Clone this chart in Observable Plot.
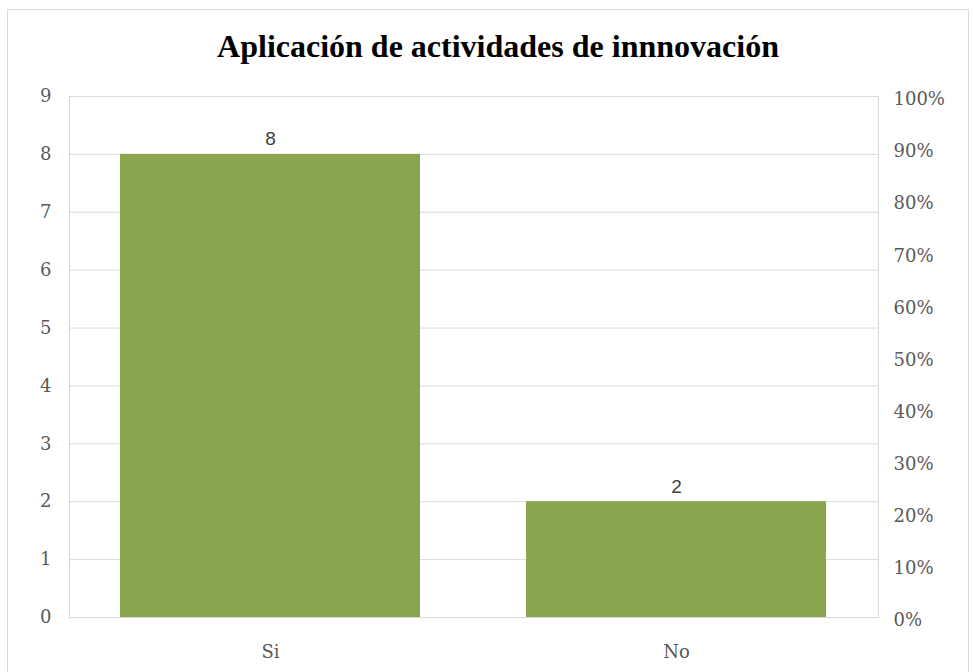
<!DOCTYPE html>
<html>
<head>
<meta charset="utf-8">
<script src="https://cdn.jsdelivr.net/npm/d3@7"></script>
<script src="https://cdn.jsdelivr.net/npm/@observablehq/plot@0.6"></script>
<style>
  body { margin: 0; background: #fff; }
  #wrap { position: relative; width: 973px; height: 672px; overflow: hidden; }
  #border { position: absolute; left: 7px; top: 9px; width: 962px; height: 680px; border: 1px solid #d9d9d9; box-sizing: border-box; }
  #title { position: absolute; top: 30px; left: 0; width: 996px; text-align: center; line-height: 32px;
           font-family: "Liberation Serif", "DejaVu Serif", serif; font-weight: bold; font-size: 32px; color: #000; }
  #chart { position: absolute; left: 0; top: 0; }
</style>
</head>
<body>
<div id="wrap">
  <div id="border"></div>
  <div id="title">Aplicación de actividades de innnovación</div>
  <div id="chart"></div>
</div>
<script>
const categories = ["Si", "No"];
const counts = [8, 2];
const yTicks = [0, 1, 2, 3, 4, 5, 6, 7, 8, 9];
const pctTicks = [0, 10, 20, 30, 40, 50, 60, 70, 80, 90, 100];
const yMax = 9;

const data = categories.map((c, i) => ({category: c, value: counts[i]}));
const labelFont = '"DejaVu Serif", "Liberation Serif", serif';

const chart = Plot.plot({
  width: 973,
  height: 672,
  marginLeft: 69,
  marginRight: 95,
  marginTop: 96,
  marginBottom: 55,
  style: {fontFamily: labelFont, fontSize: "18px", color: "#595959", background: "transparent"},
  x: {domain: categories, paddingInner: 0.26, paddingOuter: 0.125, label: null},
  y: {domain: [0, yMax], label: null},
  marks: [
    Plot.ruleY(yTicks, {stroke: "#d9d9d9", strokeWidth: 1}),
    Plot.frame({stroke: "#d9d9d9"}),
    Plot.barY(data, {x: "category", y: "value", fill: "#89a54e"}),
    Plot.text(data, {x: "category", y: "value", text: d => String(d.value), dy: -15,
      fill: "#404040", fontSize: 19, fontFamily: '"Liberation Sans", Arial, sans-serif'}),
    Plot.axisY(yTicks, {anchor: "left", tickSize: 0, tickPadding: 18, label: null, fill: "#595959",
      tickFormat: d => String(d)}),
    Plot.axisY(pctTicks.map(p => p / 100 * yMax), {anchor: "right", tickSize: 0, tickPadding: 15, dy: 3,
      tickFormat: v => Math.round(v / yMax * 100) + "%", label: null, fill: "#595959"}),
    Plot.axisX({tickSize: 0, tickPadding: 28, label: null, fill: "#595959"})
  ]
});
document.getElementById("chart").appendChild(chart);
</script>
</body>
</html>
